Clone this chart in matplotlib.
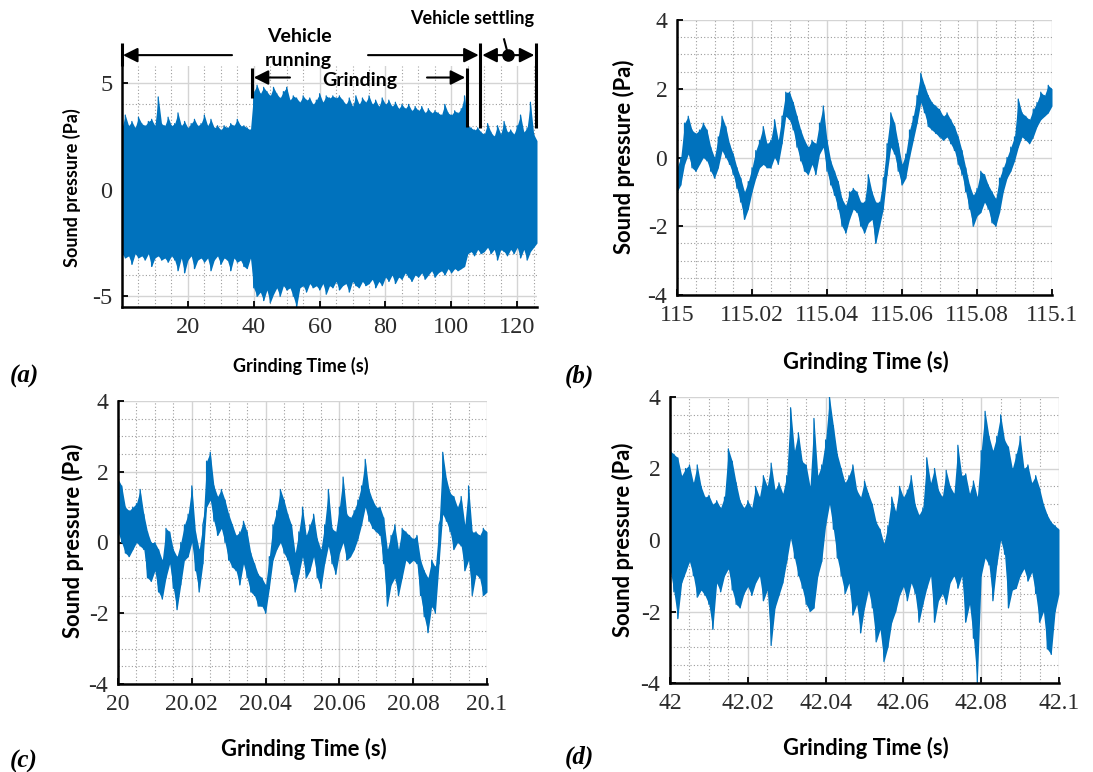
import numpy as np
import matplotlib.pyplot as plt
from matplotlib.ticker import MultipleLocator

# (a) 전체 신호: 1초 간격으로 읽은 위/아래 포락선 (Pa)
a_t = np.arange(127)
a_hi = [2.9, 3.5, 3.0, 3.2, 2.9, 3.4, 3.1, 3.0, 3.2, 3.3,
        3.0, 4.35, 3.1, 3.0, 3.4, 3.0, 3.1, 3.6, 3.0, 3.2,
        2.9, 3.1, 3.3, 3.0, 3.1, 3.5, 3.0, 3.3, 2.9, 3.0,
        2.8, 3.0, 2.9, 3.1, 3.0, 3.3, 3.0, 3.0, 2.9, 2.8,
        4.6, 4.9, 4.5, 4.8, 4.6, 4.4, 4.8, 4.5, 4.3, 4.6,
        4.8, 4.2, 4.4, 4.3, 4.1, 4.4, 4.2, 4.3, 4.0, 4.2,
        4.5, 4.1, 4.4, 4.3, 4.4, 4.3, 4.4, 4.2, 4.0, 4.3,
        3.9, 4.4, 4.0, 4.3, 4.1, 4.4, 4.0, 4.2, 3.9, 4.3,
        4.0, 4.2, 3.9, 4.1, 3.8, 4.0, 3.8, 4.0, 3.7, 3.9,
        3.7, 3.9, 3.6, 3.8, 3.6, 3.7, 3.6, 3.5, 4.0, 3.6,
        3.5, 3.7, 3.6, 3.8, 4.4, 3.0, 2.9, 2.8, 2.9, 2.7,
        2.6, 3.1, 2.7, 2.5, 3.0, 2.6, 3.2, 2.7, 2.8, 2.6,
        3.0, 3.5, 2.7, 2.9, 4.1, 2.6, 2.3]
a_lo = [-3.0, -3.2, -3.1, -3.5, -3.0, -3.2, -3.1, -3.3, -3.0, -3.6,
        -3.2, -3.1, -3.3, -3.2, -3.4, -3.1, -3.3, -3.8, -3.2, -3.9,
        -3.3, -3.1, -3.7, -3.3, -3.2, -3.4, -3.2, -3.8, -3.3, -3.1,
        -3.5, -3.2, -3.3, -3.8, -3.2, -3.4, -3.3, -3.6, -3.7, -3.2,
        -4.6, -5.0, -4.8, -5.2, -4.7, -5.3, -4.9, -4.6, -5.0, -4.5,
        -4.7, -4.6, -5.0, -5.5, -4.6, -4.5, -4.8, -4.4, -4.6, -4.5,
        -4.7, -4.4, -4.9, -4.5, -4.6, -4.3, -4.7, -4.5, -4.4, -4.8,
        -4.3, -4.5, -4.6, -4.3, -4.5, -4.4, -4.2, -4.6, -4.3, -4.5,
        -4.1, -4.3, -4.0, -4.4, -4.1, -4.2, -3.9, -4.1, -4.3, -4.0,
        -4.1, -3.9, -4.2, -4.0, -3.8, -4.1, -3.9, -3.8, -4.0, -3.7,
        -3.9, -3.7, -3.8, -3.7, -3.6, -3.0, -2.9, -3.1, -2.8, -3.0,
        -2.9, -2.7, -3.0, -2.8, -3.3, -2.8, -2.9, -3.1, -2.8, -3.0,
        -2.7, -3.2, -2.8, -3.3, -2.9, -2.7, -2.5]

# (b) 115 ~ 115.1 s 구간, 1 ms 간격 최소/최대
b_lo = [-1.0, -0.8, -0.2, 0.1, -0.3, -0.4, -0.2, 0.0, -0.1, -0.4,
        -0.6, -0.3, 0.2, 0.0, -0.2, -0.5, -0.9, -1.3, -1.8, -1.5,
        -1.0, -0.6, -0.3, -0.2, -0.3, -0.3, 0.0, -0.2, 0.4, 1.2,
        1.1, 0.8, 0.3, -0.1, -0.4, -0.5, -0.2, -0.5, 0.1, 0.3,
        -0.4, -0.8, -1.1, -1.5, -2.0, -2.2, -1.8, -1.5, -1.6, -2.0,
        -2.2, -1.9, -1.8, -2.5, -2.0, -1.5, -0.5, 0.3, 0.1, -0.4,
        -0.8, -0.6, 0.0, 0.5, 1.0, 1.6, 1.3, 0.9, 0.8, 0.7,
        0.6, 0.5, 0.6, 0.4, 0.2, -0.2, -0.5, -1.0, -1.5, -2.0,
        -1.7, -1.6, -1.3, -1.5, -1.9, -2.0, -1.6, -1.0, -0.6, -0.4,
        -0.1, 0.3, 0.6, 0.5, 0.4, 0.6, 0.9, 1.1, 1.2, 1.3,
        1.5]
b_hi = [-0.3, 0.0, 1.0, 1.2, 0.8, 0.7, 0.8, 1.0, 0.8, 0.3,
        0.0, 0.6, 1.2, 0.9, 0.4, 0.1, -0.3, -0.6, -1.0, -0.7,
        -0.3, 0.2, 0.5, 0.9, 0.4, 0.5, 1.1, 0.5, 1.2, 1.9,
        1.9, 1.6, 1.2, 0.8, 0.5, 0.3, 0.5, 0.4, 1.0, 1.5,
        0.5, -0.1, -0.4, -0.7, -1.2, -1.4, -1.0, -0.9, -1.0, -1.3,
        -1.3, -0.5, -1.0, -1.3, -1.3, -0.6, 0.4, 1.3, 1.0, 0.4,
        -0.2, 0.1, 0.8, 1.2, 1.8, 2.45, 2.1, 1.8, 1.6, 1.5,
        1.4, 1.2, 1.3, 1.1, 0.9, 0.6, 0.2, -0.3, -0.8, -1.1,
        -0.9, -0.4, -0.5, -0.8, -1.0, -1.2, -0.6, -0.3, 0.0, 0.3,
        0.6, 1.7, 1.3, 1.2, 1.1, 1.4, 1.6, 1.9, 1.8, 2.1,
        2.0]

# (c) 20 ~ 20.1 s
c_lo = [0.3, 0.0, -0.3, -0.4, -0.2, 0.0, -0.1, -0.2, -1.0, -1.1,
        -0.8, -1.4, -1.6, -1.0, -0.6, -1.3, -1.9, -1.2, -0.5, -0.4,
        0.0, -0.8, -1.4, -0.6, 1.0, 1.2, 0.6, 0.2, 0.4, 0.0,
        -0.5, -0.7, -0.8, -1.2, -0.6, -1.0, -1.4, -1.5, -1.8, -1.8,
        -2.0, -1.3, -0.5, -0.2, 0.0, -0.3, -0.5, -0.9, -1.4, -0.9,
        -0.4, -1.0, -0.8, -0.4, -1.0, -1.3, -0.6, -0.1, -0.6, -0.9,
        -0.3, 0.0, -0.5, -0.4, -0.2, 0.1, 0.5, 1.0, 0.6, 0.4,
        0.3, 0.2, -0.6, -1.8, -1.2, -1.0, -1.5, -1.0, -0.5, -0.6,
        -0.5, -0.6, -1.5, -2.1, -2.55, -1.8, -2.0, -0.6, 0.8, 0.6,
        0.3, -0.2, 0.0, -0.1, -0.8, -0.5, -1.5, -0.9, -1.0, -1.5,
        -1.4]
c_hi = [1.8, 1.6, 1.0, 0.9, 1.0, 1.1, 1.5, 0.8, 0.3, 0.0,
        0.0, -0.2, -0.5, 0.4, 0.3, -0.2, -0.4, 0.0, 0.5, 0.8,
        1.6, 0.3, -0.2, 0.5, 2.3, 2.55, 1.6, 1.3, 1.5, 1.2,
        0.8, 0.5, 0.2, 0.3, 0.6, 0.3, -0.3, -0.6, -0.9, -1.0,
        -1.2, -0.4, 0.5, 0.9, 1.5, 1.2, 0.8, 0.5, -0.3, 0.3,
        1.0, 0.2, 0.5, 0.8, 0.1, -0.2, 0.5, 1.5, 0.4, 0.3,
        1.0, 1.85, 0.8, 0.7, 0.9, 1.2, 1.6, 2.35, 1.5, 1.2,
        1.0, 1.0, 0.7, -0.2, 0.2, 0.5, -0.2, 0.4, 0.3, 0.2,
        0.1, 0.2, -0.5, -0.8, -1.0, -0.5, -0.7, 0.5, 2.55, 1.8,
        1.4, 1.3, 1.0, 1.3, 0.5, 1.6, 0.3, 0.3, 0.2, 0.4,
        0.3]

# (d) 42 ~ 42.1 s
d_lo = [-0.8, -1.45, -2.2, -1.2, -0.9, -0.6, -1.0, -1.6, -1.4, -1.55,
        -1.8, -2.5, -1.2, -1.45, -1.0, -0.8, -1.4, -1.8, -1.9, -1.5,
        -1.3, -1.55, -1.2, -1.0, -1.7, -1.4, -2.95, -1.9, -1.55, -1.2,
        -0.6, 0.05, -0.5, -1.0, -1.35, -1.8, -2.0, -1.9, -1.0, -0.6,
        0.4, 1.0, 0.3, -0.5, -1.0, -1.5, -1.2, -2.1, -1.8, -2.6,
        -1.9, -1.4, -1.9, -2.85, -2.5, -3.4, -3.0, -2.3, -2.0, -1.55,
        -1.3, -1.7, -1.2, -1.5, -2.3, -1.8, -1.35, -1.0, -2.3, -1.7,
        -1.5, -1.8, -1.2, -1.0, -1.35, -1.0, -2.3, -1.8, -2.75, -4.0,
        -1.0, -0.5, -0.7, -1.7, -0.7, 0.0, -0.4, -1.9, -1.4, -1.35,
        -1.0, -0.8, -1.15, -0.9, -1.5, -2.3, -2.0, -3.05, -3.2, -2.0,
        -1.5]
d_hi = [2.5, 2.4, 2.3, 1.8, 2.0, 2.1, 1.6, 2.1, 1.5, 1.2,
        1.25, 1.0, 1.1, 0.9, 1.2, 2.55, 2.2, 1.6, 1.1, 0.9,
        1.1, 0.9, 1.5, 1.2, 1.8, 1.5, 2.15, 1.4, 1.6, 1.3,
        1.8, 3.7, 2.5, 3.0, 2.2, 2.1, 1.5, 3.4, 1.8, 2.1,
        2.8, 4.0, 3.2, 2.4, 2.0, 1.6, 1.8, 2.1, 1.4, 1.2,
        1.65, 1.3, 1.0, 0.5, 0.3, -0.1, 0.4, 1.2, 0.8, 1.5,
        1.2, 1.4, 1.8, 1.0, 0.7, 0.9, 2.3, 1.6, 2.0, 1.4,
        1.2, 1.95, 1.5, 1.3, 2.65, 1.8, 1.85, 1.3, 1.65, 1.2,
        2.5, 3.6, 2.9, 2.5, 2.9, 3.5, 2.8, 2.6, 2.0, 2.4,
        2.9, 2.0, 2.1, 1.6, 1.8, 1.45, 1.0, 0.7, 0.5, 0.4,
        0.3]

ms = np.arange(101) * 0.001

BLUE = '#0072BD'
SERIF = 'Liberation Serif'
SANS = 'Lato'
W, H = 1093, 772

fig = plt.figure(figsize=(W / 100, H / 100), dpi=100)


def px_axes(l, t, r, b):
    # 픽셀 좌표(왼, 위, 오른, 아래)로 축 배치
    return fig.add_axes([l / W, 1 - b / H, (r - l) / W, (b - t) / H])


def signal(ax, t, lo, hi, lw=0.9):
    # 최소/최대 사이 채움 + 번갈아 잇는 선 -> 잡음 신호처럼 보이게
    t = np.asarray(t, dtype=float)
    ax.fill_between(t, lo, hi, color=BLUE, lw=0)
    x = np.repeat(t, 2)
    y = np.column_stack([lo, hi]).ravel()
    ax.plot(x, y, color=BLUE, lw=lw)


def style(ax, xlim, ylim, xticks, xlabels, yticks, ylabels, xminor, yminor,
          xlab_pos, ylab_pos, lab_size, tick_size):
    ax.set_xlim(*xlim)
    ax.set_ylim(*ylim)
    ax.set_xticks(xticks)
    ax.set_xticklabels(xlabels)
    ax.set_yticks(yticks)
    ax.set_yticklabels(ylabels)
    ax.xaxis.set_minor_locator(MultipleLocator(xminor))
    ax.yaxis.set_minor_locator(MultipleLocator(yminor))
    ax.grid(which='major', color='#d4d4d4', lw=1.0, ls='-')
    ax.grid(which='minor', color='#9c9c9c', lw=0.8, ls=(0, (1, 2)))
    ax.set_axisbelow(True)
    for s in ['top', 'right']:
        ax.spines[s].set_visible(False)
    for s in ['left', 'bottom']:
        ax.spines[s].set_linewidth(1.8)
    ax.tick_params(which='major', direction='in', length=4, width=1.3,
                   labelsize=tick_size, labelcolor='#2b2b2b', pad=7)
    ax.tick_params(which='minor', length=0)
    for lab in ax.get_xticklabels() + ax.get_yticklabels():
        lab.set_fontfamily(SERIF)
    ax.set_xlabel('Grinding Time (s)', fontfamily=SANS, fontweight='bold',
                  fontsize=lab_size, va='center')
    ax.set_ylabel('Sound pressure (Pa)', fontfamily=SANS, fontweight='bold',
                  fontsize=lab_size, va='center')
    ax.xaxis.set_label_coords(*xlab_pos)
    ax.yaxis.set_label_coords(*ylab_pos)


# ---- (a)
ax_a = px_axes(122, 66, 537, 307)
signal(ax_a, a_t, a_lo, a_hi)
style(ax_a, (0, 126), (-5.5, 5.8), [20, 40, 60, 80, 100, 120],
      ['20', '40', '60', '80', '100', '120'], [-5, 0, 5], ['-5', '0', '5'],
      5, 1, (0.43, -0.245), (-0.12, 0.494), 13, 17.5)

# 구간 표시 화살표
def arrow(x0, x1, y):
    ax_a.annotate('', xy=(x1, y), xytext=(x0, y), annotation_clip=False,
                  arrowprops=dict(arrowstyle='-|>', color='black', lw=1.5,
                                  mutation_scale=22, shrinkA=0, shrinkB=0))


def bar(x, y0, y1):
    ax_a.plot([x, x], [y0, y1], color='black', lw=2.2, clip_on=False,
              solid_capstyle='butt')


bar(0, 5.8, 6.9)
arrow(33.4, 0.3, 6.31)
arrow(74.7, 108.3, 6.31)
bar(108.7, 2.9, 6.88)
bar(125.6, 2.9, 6.88)
bar(39.5, 4.3, 5.7)
arrow(51.0, 40.0, 5.26)
arrow(92.6, 104.2, 5.26)
bar(104.6, 2.94, 5.7)
arrow(117.1, 109.4, 6.31)
arrow(117.1, 125.2, 6.31)
ax_a.plot(117.1, 6.31, 'o', ms=8, color='black', clip_on=False)
ax_a.plot([117.1, 116.0], [6.4, 7.05], color='black', lw=1.5, clip_on=False)

txt = dict(fontfamily=SANS, fontweight='bold', ha='center', va='center')
ax_a.text(54.0, 7.2, 'Vehicle', fontsize=14, **txt)
ax_a.text(53.5, 6.08, 'running', fontsize=14, **txt)
ax_a.text(72.3, 5.14, 'Grinding', fontsize=14, **txt)
ax_a.text(106.3, 8.05, 'Vehicle settling', fontsize=13, **txt)

# ---- (b)
ax_b = px_axes(677, 20, 1052, 295)
signal(ax_b, 115 + ms, b_lo, b_hi)
style(ax_b, (115, 115.1), (-4, 4),
      [115, 115.02, 115.04, 115.06, 115.08, 115.1],
      ['115', '115.02', '115.04', '115.06', '115.08', '115.1'],
      [-4, -2, 0, 2, 4], ['-4', '-2', '0', '2', '4'], 0.005, 0.5,
      (0.504, -0.244), (-0.141, 0.502), 15.8, 17)

# ---- (c)
ax_c = px_axes(118, 401, 487, 684)
signal(ax_c, 20 + ms, c_lo, c_hi)
style(ax_c, (20, 20.1), (-4, 4),
      [20, 20.02, 20.04, 20.06, 20.08, 20.1],
      ['20', '20.02', '20.04', '20.06', '20.08', '20.1'],
      [-4, -2, 0, 2, 4], ['-4', '-2', '0', '2', '4'], 0.005, 0.5,
      (0.504, -0.23), (-0.122, 0.505), 15.8, 17)

# ---- (d)
ax_d = px_axes(670, 397, 1059, 683)
signal(ax_d, 42 + ms, d_lo, d_hi)
style(ax_d, (42, 42.1), (-4, 4),
      [42, 42.02, 42.04, 42.06, 42.08, 42.1],
      ['42', '42.02', '42.04', '42.06', '42.08', '42.1'],
      [-4, -2, 0, 2, 4], ['-4', '-2', '0', '2', '4'], 0.005, 0.5,
      (0.504, -0.227), (-0.121, 0.5), 15.8, 17)

# 패널 번호
for lab, x, y in [('(a)', 10, 376), ('(b)', 565, 376), ('(c)', 10, 761), ('(d)', 565, 757)]:
    fig.text(x / W, 1 - y / H, lab, fontfamily=SERIF, fontweight='bold',
             fontstyle='italic', fontsize=18, va='center', ha='left')

fig.savefig('out.png', dpi=100)
